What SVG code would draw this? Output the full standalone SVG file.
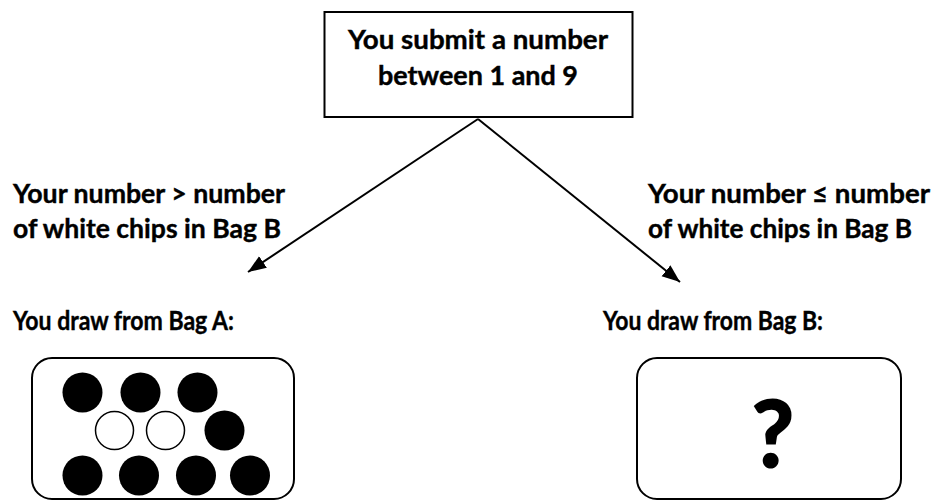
<svg xmlns="http://www.w3.org/2000/svg" width="934" height="500" viewBox="0 0 934 500">
<defs>
<style>
.t{font-family:Lato,"Liberation Sans",Arial,sans-serif;font-weight:bold;font-size:26px;fill:#000;stroke:#000;stroke-width:0.4}
.box{fill:#fff;stroke:#000;stroke-width:2}
.conn{stroke:#000;stroke-width:2;fill:none}
.blk{fill:#000}
.wht{fill:#fff;stroke:#000;stroke-width:1.5}
</style>
<marker id="ah" markerUnits="userSpaceOnUse" markerWidth="20" markerHeight="16" refX="18" refY="7" orient="auto">
<path d="M0,0 L18,7 L0,14 Z" fill="#000"/>
</marker>
</defs>
<rect width="934" height="500" fill="#fff"/>
<g id="connectors">
<line class="conn" x1="478" y1="119" x2="248" y2="272" marker-end="url(#ah)"/>
<line class="conn" x1="478" y1="119" x2="680" y2="282" marker-end="url(#ah)"/>
</g>
<g id="start">
<rect class="box" x="324.5" y="12" width="308" height="105"/>
<text class="t" x="478" y="49" text-anchor="middle" textLength="260" lengthAdjust="spacingAndGlyphs">You submit a number</text>
<text class="t" x="478" y="85" text-anchor="middle" textLength="200" lengthAdjust="spacingAndGlyphs">between 1 and 9</text>
</g>
<g id="label-left">
<text class="t" x="13" y="203" textLength="272" lengthAdjust="spacingAndGlyphs">Your number &gt; number</text>
<text class="t" x="13" y="238" textLength="268" lengthAdjust="spacingAndGlyphs">of white chips in Bag B</text>
</g>
<g id="label-right">
<text class="t" x="648" y="203" textLength="282" lengthAdjust="spacingAndGlyphs">Your number ≤ number</text>
<text class="t" x="648" y="238" textLength="264" lengthAdjust="spacingAndGlyphs">of white chips in Bag B</text>
</g>
<g id="bag-a">
<text class="t" x="13" y="330" textLength="221" lengthAdjust="spacingAndGlyphs">You draw from Bag A:</text>
<rect class="box" x="32" y="358" width="262" height="141" rx="20" ry="20"/>
<circle class="blk" cx="82.5" cy="392.5" r="20"/>
<circle class="blk" cx="140.5" cy="392.5" r="20"/>
<circle class="blk" cx="197.5" cy="392.5" r="20"/>
<circle class="wht" cx="114.5" cy="430.5" r="19"/>
<circle class="wht" cx="165.5" cy="430.5" r="19"/>
<circle class="blk" cx="224.5" cy="430.5" r="20"/>
<circle class="blk" cx="82.5" cy="475.5" r="20"/>
<circle class="blk" cx="139" cy="475.5" r="20"/>
<circle class="blk" cx="196" cy="475.5" r="20"/>
<circle class="blk" cx="250" cy="475.5" r="20"/>
</g>
<g id="bag-b">
<text class="t" x="603" y="330" textLength="220" lengthAdjust="spacingAndGlyphs">You draw from Bag B:</text>
<rect class="box" x="637" y="358" width="264" height="141" rx="20" ry="20"/>
<text class="t" x="773" y="467" text-anchor="middle" style="font-size:92px;stroke-width:2">?</text>
</g>
</svg>
